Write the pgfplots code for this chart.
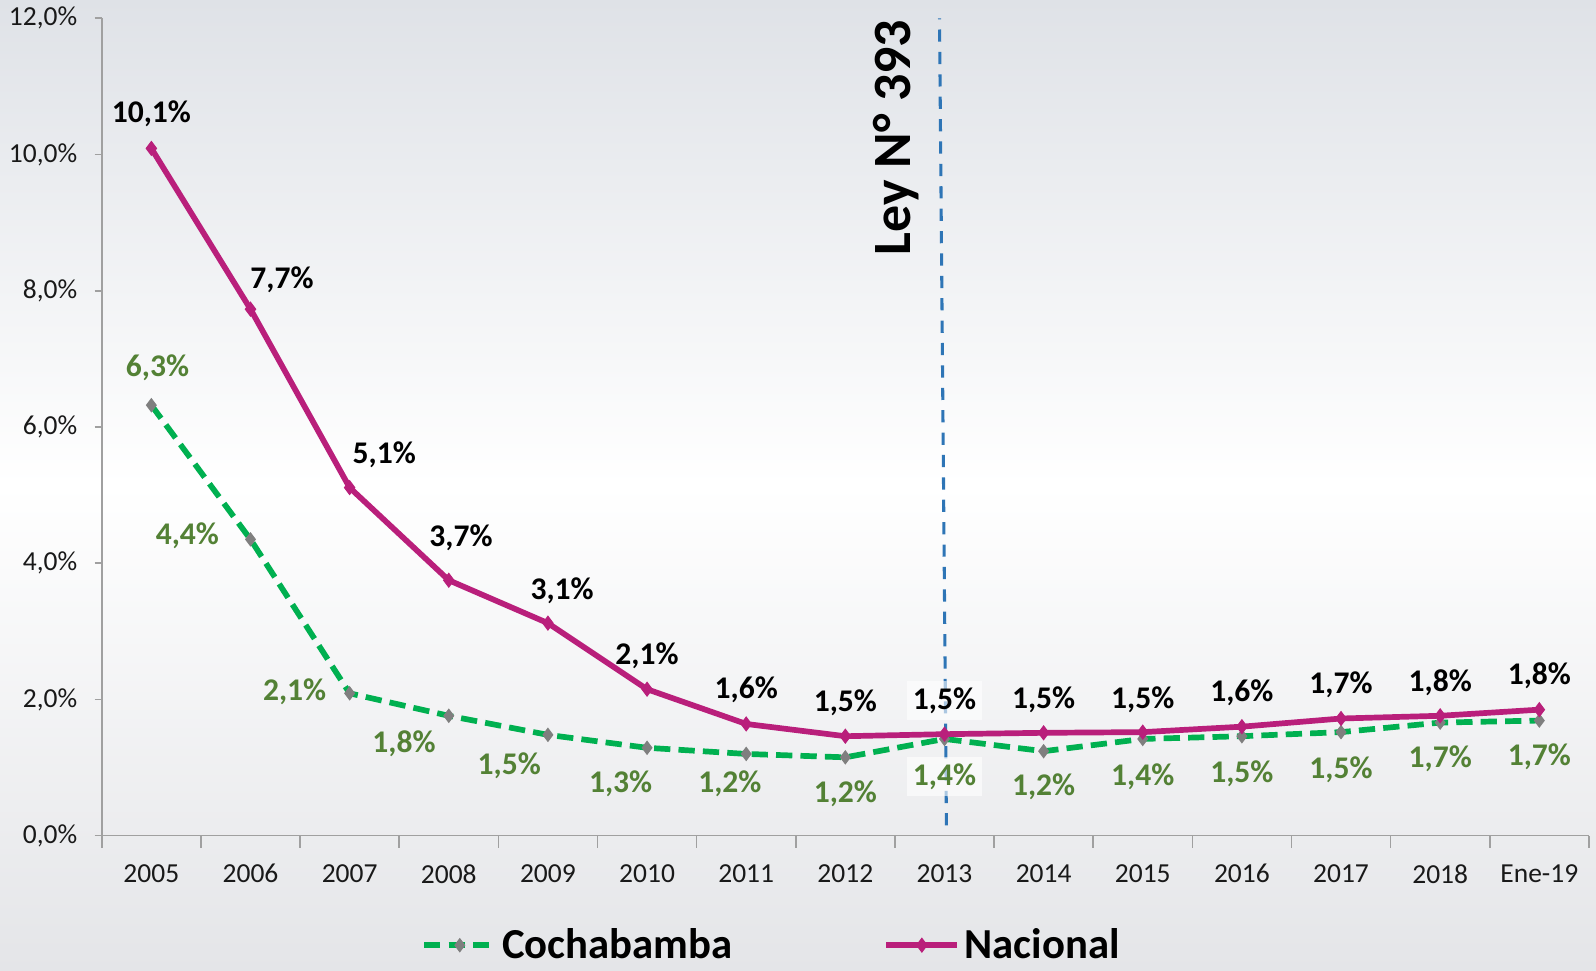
\documentclass[border=0pt]{standalone}
\usepackage{fontspec}
\setmainfont{Carlito}
\usepackage{pgfplots}
\usepackage{pgfplotstable}
\pgfplotsset{compat=1.18}
\definecolor{Cnac}{HTML}{B91F7B}
\definecolor{Ccbba}{HTML}{00B050}
\definecolor{Cmark}{HTML}{7F7F7F}
\definecolor{Clab}{HTML}{538135}
\definecolor{Cley}{HTML}{2E75B6}
\definecolor{Caxis}{HTML}{A0A0A0}
\definecolor{Cbgtop}{HTML}{DFE2E7}
\definecolor{Cbgbot}{HTML}{E4E5E8}

% x = category index (0 = 2005 ... 14 = Ene-19), lab = printed value,
% dx/dy = label offset in pt, bg = opacity of the label's white box
\pgfplotstableread{
x y lab dx dy bg
0 10.09 10.1 0 17 0
1 7.73 7.7 15.5 14.5 0
2 5.11 5.1 17 16 0
3 3.75 3.7 6 21 0
4 3.12 3.1 7 16 0
5 2.15 2.1 0 16.5 0
6 1.64 1.6 0 17 0
7 1.46 1.5 0 16.5 0
8 1.49 1.5 0 16.5 0.6
9 1.51 1.5 0 16 0
10 1.52 1.5 0 16 0
11 1.60 1.6 0 16.5 0
12 1.72 1.7 0 16.5 0
13 1.76 1.8 0 16 0
14 1.85 1.8 0 16.5 0
}\nacional

\pgfplotstableread{
x y lab dx dy bg
0 6.32 6.3 3 18.5 0
1 4.35 4.4 -31 2 0
2 2.09 2.1 -27 1 0
3 1.76 1.8 -22 -13.5 0
4 1.48 1.5 -19 -15 0
5 1.29 1.3 -13 -17.5 0
6 1.20 1.2 -8 -14.5 0
7 1.15 1.2 0 -18 0
8 1.42 1.4 0 -18.5 0.6
9 1.24 1.2 0 -17.5 0
10 1.42 1.4 0 -18.5 0
11 1.46 1.5 0 -18.5 0
12 1.52 1.5 0 -18.5 0
13 1.66 1.7 0 -18 0
14 1.69 1.7 0 -18 0
}\cochabamba

\pgfplotsset{
  vallabels/.style={
    point meta=\thisrow{lab},
    visualization depends on={\thisrow{dx}\as\dx},
    visualization depends on={\thisrow{dy}\as\dy},
    visualization depends on={\thisrow{bg}\as\bg},
    nodes near coords={\pgfmathprintnumber[fixed,fixed zerofill,precision=1,use comma]{\pgfplotspointmeta}\%},
    nodes near coords style={anchor=center, xshift=\dx pt, yshift=\dy pt,
      font=\bfseries\fontsize{15.5}{18}\selectfont, text=#1,
      fill=white, fill opacity=\bg, text opacity=1, inner sep=3pt},
  },
}

\begin{document}
\begin{tikzpicture}
\useasboundingbox (-50pt,-66pt) rectangle (734pt,410.5pt);
\shade[top color=Cbgtop, bottom color=Cbgbot, middle color=white]
  (-50pt,-66pt) rectangle (734pt,410.5pt);
\begin{axis}[
  at={(0,0)}, anchor=south west,
  scale only axis,
  width=730.5pt, height=401.5pt,
  xmin=-0.5, xmax=14.5,
  ymin=0, ymax=12,
  clip=false,
  axis lines*=left,
  axis line style={Caxis, line width=0.8pt},
  tick align=outside,
  tick style={Caxis, line width=0.8pt},
  major tick length=3.5pt,
  minor tick length=6pt,
  xtick={0,...,14},
  xticklabels={2005,2006,2007,2008,2009,2010,2011,2012,2013,2014,2015,2016,2017,2018,Ene-19},
  minor xtick={-0.5,0.5,...,14.5},
  every major x tick/.style={draw=none},
  ytick={0,2,...,12},
  yticklabel={\pgfmathprintnumber[fixed,fixed zerofill,precision=1,use comma]{\tick}\%},
  /pgf/number format/assume math mode=true,
  ticklabel style={font=\fontsize{13.5}{16}\selectfont, text=black!90},
  xticklabel style={yshift=-7pt},
  yticklabel style={xshift=-5pt},
  legend columns=2,
  legend style={at={(0.451,-0.134)}, anchor=center, draw=none, fill=none,
    font=\bfseries\fontsize{21}{25}\selectfont,
    /tikz/every even column/.append style={column sep=72pt}},
  legend image code/.code={\draw[mark repeat=2,mark phase=2]
    plot coordinates {(0pt,0pt) (17.5pt,0pt) (35pt,0pt)};},
]
\addplot[Cley, line width=1.5pt, dash pattern=on 6pt off 5pt, forget plot]
  coordinates {(8.02,0.15) (7.95,12)};

\addplot[Ccbba, line width=2.8pt, dash pattern=on 8pt off 4pt,
  mark=diamond*, mark size=3.2pt, mark options={solid, fill=Cmark, draw=Cmark, line width=0.5pt},
  vallabels=Clab,
] table[x=x, y=y] {\cochabamba};
\addlegendentry{Cochabamba}

\addplot[Cnac, line width=2.8pt,
  mark=diamond*, mark size=3.4pt, mark options={solid, fill=Cnac, draw=Cnac, line width=0.5pt},
  vallabels=black,
] table[x=x, y=y] {\nacional};
\addlegendentry{Nacional}

\node[rotate=90, font=\bfseries\fontsize{26.5}{30}\selectfont, text=black]
  at (axis cs:7.51,10.25) {Ley N° 393};
\end{axis}
\end{tikzpicture}
\end{document}
